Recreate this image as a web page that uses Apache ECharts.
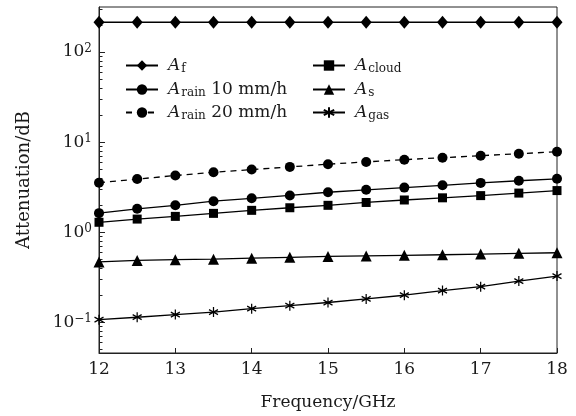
<!DOCTYPE html>
<html><head><meta charset="utf-8">
<script src="https://cdn.jsdelivr.net/npm/echarts@6/dist/echarts.min.js"></script>
<style>html,body{margin:0;padding:0;background:#fff}#c{width:576px;height:416px}</style>
</head><body><div id="c"></div>
<script>
const freq = [12, 12.5, 13, 13.5, 14, 14.5, 15, 15.5, 16, 16.5, 17, 17.5, 18];
const A_f      = [214, 214, 214, 214, 214, 214, 214, 214, 214, 214, 214, 214, 214];
const A_rain10 = [1.63, 1.82, 1.99, 2.21, 2.38, 2.56, 2.78, 2.96, 3.13, 3.32, 3.53, 3.73, 3.92];
const A_rain20 = [3.54, 3.89, 4.26, 4.63, 4.96, 5.31, 5.69, 6.03, 6.39, 6.72, 7.07, 7.44, 7.82];
const A_cloud  = [1.29, 1.40, 1.50, 1.62, 1.75, 1.87, 1.99, 2.14, 2.28, 2.41, 2.55, 2.72, 2.90];
const A_s      = [0.468, 0.487, 0.496, 0.503, 0.516, 0.527, 0.539, 0.546, 0.554, 0.563, 0.573, 0.583, 0.592];
const A_gas    = [0.107, 0.114, 0.122, 0.130, 0.142, 0.153, 0.166, 0.182, 0.200, 0.225, 0.249, 0.287, 0.326];
const xTicks = [12, 13, 14, 15, 16, 17, 18];
const yMajorTicks = [0.1, 1, 10, 100];
const yMinorTicks = [0.05, 0.06, 0.07, 0.08, 0.09, 0.2, 0.3, 0.4, 0.5, 0.6, 0.7, 0.8, 0.9,
  2, 3, 4, 5, 6, 7, 8, 9, 20, 30, 40, 50, 60, 70, 80, 90, 200, 300];
const yMin = 0.0457, yMax = 316;
const legendNames = ['Af', 'Acloud', 'Arain10', 'As', 'Arain20', 'Agas'];
const legendLabels = {
  Af: '{i|A}{s|f}',
  Acloud: '{i|A}{s|cloud}',
  Arain10: '{i|A}{s|rain}{t| 10 mm/h}',
  As: '{i|A}{s|s}',
  Arain20: '{i|A}{s|rain}{t| 20 mm/h}',
  Agas: '{i|A}{s|gas}'
};

const FONT = 'DejaVu Serif';
const INK = '#1a1a1a';
const AX = '#222';
const pair = arr => freq.map((f, i) => [f, arr[i]]);
const starPath = 'path://M50 0 L50 100 M6.7 25 L93.3 75 M6.7 75 L93.3 25';

const richLegend = {
  i: {fontFamily: FONT, fontSize: 17, fontStyle: 'italic', color: INK, lineHeight: 18, padding: [0, 1, 0, 5]},
  s: {fontFamily: FONT, fontSize: 12, color: INK, lineHeight: 8, verticalAlign: 'bottom'},
  t: {fontFamily: FONT, fontSize: 17, color: INK, lineHeight: 18}
};
const legendPos = {
  Af: [125, 66], Arain10: [125, 90], Arain20: [125, 113],
  Acloud: [312, 66], As: [312, 90], Agas: [312, 113]
};
const legends = legendNames.map(n => ({
  data: [n], orient: 'vertical', left: legendPos[n][0], top: legendPos[n][1] - 9,
  padding: 0, itemWidth: 32, itemHeight: 13, selectedMode: false,
  formatter: name => legendLabels[name],
  textStyle: {rich: richLegend}
}));

function mkSeries(name, data, symbol, size, extra) {
  return Object.assign({
    name, type: 'line', data: pair(data), symbol, symbolSize: size,
    showAllSymbol: true, yAxisIndex: 0,
    lineStyle: {color: '#000', width: 1.3},
    itemStyle: {color: '#000'},
    emphasis: {disabled: true}, animation: false, z: 3
  }, extra || {});
}

const tickAxis = (values, len) => ({
  type: 'value', min: Math.log10(yMin), max: Math.log10(yMax), position: 'left',
  axisLine: {show: false, onZero: false}, axisLabel: {show: false}, splitLine: {show: false},
  axisTick: {show: true, inside: true, length: len, lineStyle: {color: AX, width: 1},
    customValues: values.map(v => Math.log10(v))}
});

const option = {
  backgroundColor: '#fff',
  animation: false,
  grid: {left: 99, right: 19, top: 7, bottom: 59, show: true, borderColor: AX, borderWidth: 1, containLabel: false},
  legend: legends,
  xAxis: {
    type: 'value', min: xTicks[0], max: xTicks[xTicks.length - 1], interval: 1,
    name: 'Frequency/GHz', nameLocation: 'middle', nameGap: 41,
    nameTextStyle: {fontFamily: FONT, fontSize: 17, color: INK},
    axisLine: {show: true, onZero: false, lineStyle: {color: AX, width: 1}},
    axisTick: {show: true, inside: true, length: 5, lineStyle: {color: AX, width: 1}},
    axisLabel: {fontFamily: FONT, fontSize: 17, color: INK, margin: 8, showMinLabel: true, showMaxLabel: true},
    splitLine: {show: false}
  },
  yAxis: [{
    type: 'log', logBase: 10, min: yMin, max: yMax,
    name: 'Attenuation/dB', nameLocation: 'middle', nameGap: 66,
    nameTextStyle: {fontFamily: FONT, fontSize: 18, color: INK},
    axisLine: {show: true, onZero: false, lineStyle: {color: AX, width: 1}},
    axisTick: {show: false},
    axisLabel: {
      margin: 7, showMinLabel: false, showMaxLabel: false,
      formatter: v => {
        const e = Math.round(Math.log10(v));
        if (!yMajorTicks.some(t => Math.abs(Math.log10(t) - e) < 1e-6)) return '';
        return '{b|10}{p|' + (e < 0 ? '\u2212' + (-e) : e) + '}';
      },
      rich: {
        b: {fontFamily: FONT, fontSize: 17, color: INK, lineHeight: 18},
        p: {fontFamily: FONT, fontSize: 12, color: INK, lineHeight: 8, verticalAlign: 'top'}
      }
    },
    splitLine: {show: false}, minorTick: {show: false}
  }, tickAxis(yMinorTicks, 3.5), tickAxis(yMajorTicks, 6)],
  series: [
    mkSeries('Af', A_f, 'diamond', [11, 13]),
    mkSeries('Acloud', A_cloud, 'rect', 9),
    mkSeries('Arain10', A_rain10, 'circle', 10),
    mkSeries('As', A_s, 'triangle', 11),
    mkSeries('Arain20', A_rain20, 'circle', 10, {lineStyle: {color: '#000', width: 1.3, type: [6, 5]}}),
    mkSeries('Agas', A_gas, starPath, [9, 10], {itemStyle: {color: 'rgba(0,0,0,0)', borderColor: '#000', borderWidth: 1.3}})
  ]
};
const chart = echarts.init(document.getElementById('c'), null, {renderer: 'canvas'});
chart.setOption(option);
</script>
</body></html>
